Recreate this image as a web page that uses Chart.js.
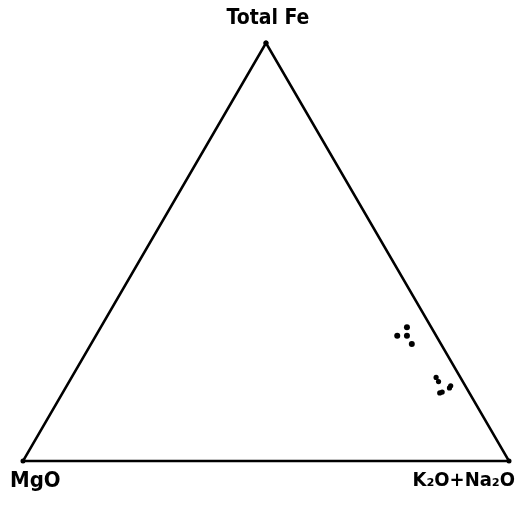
<!DOCTYPE html>
<html>
<head>
<meta charset="utf-8">
<script src="https://cdn.jsdelivr.net/npm/chart.js@4/dist/chart.umd.min.js"></script>
<style>
  html, body { margin: 0; padding: 0; background: #fff; }
  #wrap { width: 518px; height: 511px; }
</style>
</head>
<body>
<div id="wrap"><canvas id="afm"></canvas></div>
<script>
// AFM ternary: Total Fe (top), MgO (left), K2O+Na2O (right), values in wt %
const apexLabels = ['Total Fe', 'MgO', 'K₂O+Na₂O'];

const groupA_Fe  = [30, 32, 30, 28];
const groupA_MgO = [8, 5, 6, 6];
const groupA_Alk = [62, 63, 64, 66];

const groupB_Fe  = [20, 19, 18, 17.5, 16.5, 16.3];
const groupB_MgO = [5, 5, 3, 3.5, 5.5, 6.1];
const groupB_Alk = [75, 76, 79, 79, 78, 77.6];

// triangle corners: Fe, MgO, Alk, back to Fe
const edgeFe  = [100, 0, 0, 100];
const edgeMgO = [0, 100, 0, 0];
const edgeAlk = [0, 0, 100, 0];

const H = Math.sqrt(3) / 2;
function toXY(fe, mg, alk) {
  const s = fe + mg + alk;
  return { x: (alk + fe / 2) / s, y: (fe / s) * H };
}
function series(fe, mg, alk) {
  return fe.map((v, i) => toXY(v, mg[i], alk[i]));
}

const labelPlugin = {
  id: 'apexLabels',
  afterDraw(chart) {
    const { ctx, scales: { x, y } } = chart;
    ctx.save();
    ctx.fillStyle = '#000';
    ctx.textBaseline = 'middle';
    ctx.font = 'bold 21px "DejaVu Sans Condensed", "DejaVu Sans", sans-serif';
    ctx.textAlign = 'center';
    ctx.fillText(apexLabels[0], x.getPixelForValue(0.5) + 2, y.getPixelForValue(H) - 24);
    ctx.font = 'bold 22px "DejaVu Sans Condensed", "DejaVu Sans", sans-serif';
    ctx.textAlign = 'left';
    ctx.fillText(apexLabels[1], x.getPixelForValue(0) - 13, y.getPixelForValue(0) + 20);
    ctx.font = 'bold 20px "DejaVu Sans Condensed", "DejaVu Sans", sans-serif';
    ctx.textAlign = 'right';
    ctx.fillText(apexLabels[2], x.getPixelForValue(1) + 6, y.getPixelForValue(0) + 20);
    ctx.restore();
  }
};

new Chart(document.getElementById('afm'), {
  type: 'scatter',
  data: {
    datasets: [
      {
        label: 'frame',
        data: series(edgeFe, edgeMgO, edgeAlk),
        showLine: true,
        borderColor: '#000',
        borderWidth: 2.5,
        pointRadius: 2.5,
        pointBackgroundColor: '#000',
        pointBorderWidth: 0
      },
      {
        label: 'group A',
        data: series(groupA_Fe, groupA_MgO, groupA_Alk),
        pointRadius: 3,
        pointBackgroundColor: '#000',
        pointBorderWidth: 0
      },
      {
        label: 'group B',
        data: series(groupB_Fe, groupB_MgO, groupB_Alk),
        pointRadius: 2.6,
        pointBackgroundColor: '#000',
        pointBorderWidth: 0
      }
    ]
  },
  options: {
    responsive: true,
    maintainAspectRatio: false,
    animation: false,
    layout: { padding: 0, autoPadding: false },
    plugins: {
      legend: { display: false },
      tooltip: { enabled: false }
    },
    scales: {
      x: { type: 'linear', display: false, min: -0.0473, max: 1.0185 },
      y: { type: 'linear', display: false, min: -0.1035, max: 0.9551 }
    }
  },
  plugins: [labelPlugin]
});
</script>
</body>
</html>
